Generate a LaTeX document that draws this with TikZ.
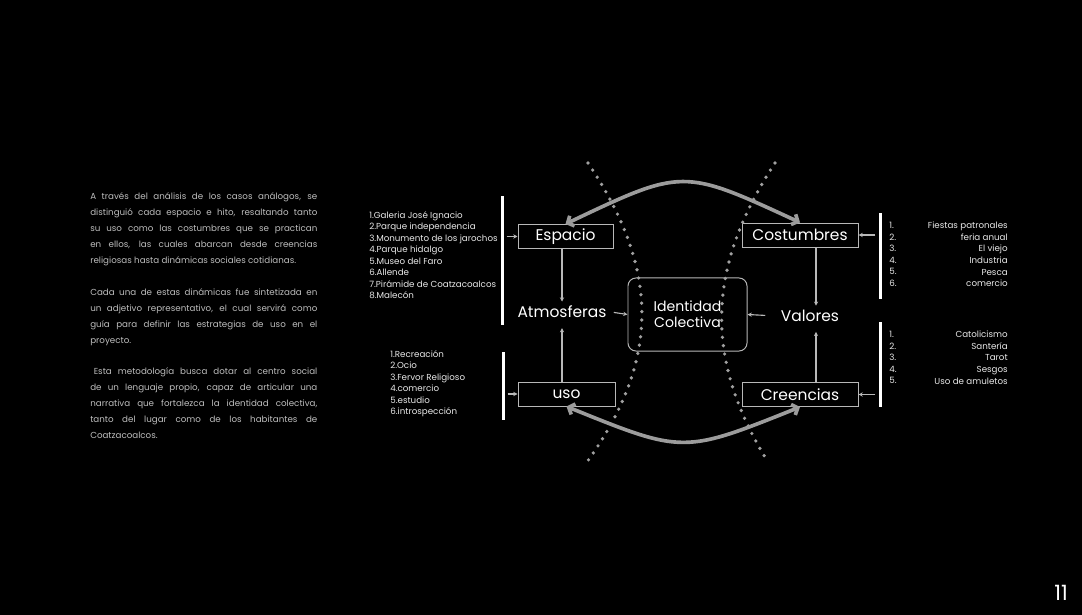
\documentclass[tikz,border=0pt]{standalone}
\usepackage{fontspec}
\setmainfont{Poppins}
\usetikzlibrary{arrows.meta, positioning, calc}
\definecolor{lightline}{HTML}{B8B8B8}
\definecolor{arcgray}{HTML}{9C9C9C}
\definecolor{dotgray}{HTML}{A0A0A0}
\definecolor{paragray}{HTML}{BDBDBD}
\definecolor{itemwhite}{HTML}{E8E8E8}
\hyphenpenalty=10000
\exhyphenpenalty=10000

\begin{document}
\begin{tikzpicture}[x=0.025cm, y=-0.025cm,
		box/.style={draw=lightline, line width=0.7pt, inner sep=0pt, minimum height=0.6cm, text=white, font=\fontsize{11}{13}\selectfont},
		word/.style={text=white, inner sep=3pt, font=\fontsize{11}{13}\selectfont},
		items/.style={text=itemwhite, inner sep=0pt, font=\fontsize{6.2}{8.2}\selectfont},
		para/.style={text=paragray, inner sep=0pt, text width=5.675cm, align=justify, font=\fontsize{6.2}{11.4}\selectfont},
		bar/.style={fill=white, inner sep=0pt, minimum width=0.075cm},
		link/.style={draw=lightline, line width=0.8pt, -{Stealth[length=3pt, width=3pt]}},
		swing/.style={draw=arcgray, line width=2.6pt, {Straight Barb[length=3.5pt, width=8pt]}-{Straight Barb[length=3.5pt, width=8pt]}},
		divider/.style={draw=dotgray, line width=2.6pt, line cap=round, dash pattern=on 0pt off 6pt}]
		\fill[black] (0,0) rectangle (1082,615);
		\useasboundingbox (0,0) rectangle (1082,615);

		\coordinate (espacio)    at (565.5, 236.5);
		\coordinate (costumbres) at (800, 235);
		\coordinate (uso)        at (566.5, 394);
		\coordinate (creencias)  at (800, 394.5);
		\coordinate (identidad)  at (687.5, 314.5);
		\coordinate (atmosferas) at (562, 312);
		\coordinate (valores)    at (810, 316);

		\node[para, anchor=north west] (PARA1) at (90, 192) {A través del análisis de los casos análogos, se\linebreak distinguió cada espacio e hito, resaltando tanto\linebreak su uso como las costumbres que se practican\linebreak en ellos, las cuales abarcan desde creencias\linebreak religiosas hasta dinámicas sociales cotidianas.};
		\node[para, anchor=north west] (PARA2) at (90, 288) {Cada una de estas dinámicas fue sintetizada en\linebreak un adjetivo representativo, el cual servirá como\linebreak guía para definir las estrategias de uso en el\linebreak proyecto.};
		\node[para, anchor=north west] (PARA3) at (90, 367) {\hspace*{0.4em}Esta metodología busca dotar al centro social\linebreak de un lenguaje propio, capaz de articular una\linebreak narrativa que fortalezca la identidad colectiva,\linebreak tanto del lugar como de los habitantes de\linebreak Coatzacoalcos.};

		\node[items, anchor=north west, align=left] (LESP) at (369, 211) {1.Galeria José Ignacio\\2.Parque independencia\\3.Monumento de los jarochos\\4.Parque hidalgo\\5.Museo del Faro\\6.Allende\\7.Pirámide de Coatzacoalcos\\8.Malecón};
		\node[items, anchor=north west, align=left] (LUSO) at (390, 350) {1.Recreación\\2.Ocio\\3.Fervor Religioso\\4.comercio\\5.estudio\\6.introspección};
		\node[items, anchor=north west, align=left] (NCOS) at (889, 222) {1.\\2.\\3.\\4.\\5.\\6.};
		\node[items, anchor=north east, align=right] (LCOS) at (1008, 222) {Fiestas patronales\\feria anual\\El viejo\\Industria\\Pesca\\comercio};
		\node[items, anchor=north west, align=left] (NCRE) at (889, 331) {1.\\2.\\3.\\4.\\5.};
		\node[items, anchor=north east, align=right] (LCRE) at (1008, 331) {Catolicismo\\Santería\\Tarot\\Sesgos\\Uso de amuletos};

		\node[bar, minimum height=3.225cm] (BARESP) at (502, 260.5) {};
		\node[bar, minimum height=1.7cm] (BARUSO) at (503, 386) {};
		\node[bar, minimum height=2.15cm] (BARCOS) at (880, 256) {};
		\node[bar, minimum height=2.125cm] (BARCRE) at (880, 364.5) {};

		\node[box, minimum width=2.375cm] (ESP) at (espacio) {Espacio};
		\node[box, minimum width=2.9cm] (COS) at (costumbres) {Costumbres};
		\node[box, minimum width=2.425cm] (USO) at (uso) {uso};
		\node[box, minimum width=2.9cm] (CRE) at (creencias) {Creencias};
		\node[box, minimum width=2.975cm, minimum height=1.825cm, rounded corners=0.2cm, align=center, font=\fontsize{10}{11.5}\selectfont] (IDE) at (identidad) {Identidad\\Colectiva};
		\node[word] (ATM) at (atmosferas) {Atmosferas};
		\node[word] (VAL) at (valores) {Valores};
		\node[word, font=\fontsize{15}{18}\selectfont] (PAGE) at (1061, 593) {11};

		\draw[divider] (588, 163) .. controls (660, 270) and (660, 360) .. (587, 462);
		\draw[divider] (775, 163) .. controls (705, 270) and (705, 360) .. (768, 462);

		\draw[swing] (ESP.north) .. controls ($(ESP.north)!0.5!(COS.north)+(0,-55)$) .. (COS.north);
		\draw[swing] (USO.south) .. controls ($(USO.south)!0.5!(CRE.south)+(0,47)$) .. (CRE.south);

		\coordinate (valtop) at ([xshift=0.15cm]VAL.north);
		\coordinate (valbot) at ([xshift=0.15cm]VAL.south);
		\draw[link, shorten <=2pt] (ESP.west -| BARESP.east) -- (ESP.west);
		\draw[link, shorten <=2pt] (USO.west -| BARUSO.east) -- (USO.west);
		\draw[link, shorten <=2pt] (COS.east -| BARCOS.west) -- (COS.east);
		\draw[link, shorten <=2pt] (CRE.east -| BARCRE.west) -- (CRE.east);
		\draw[link] (ATM.north |- ESP.south) -- (ATM.north);
		\draw[link, shorten >=4pt] (ATM.south |- USO.north) -- (ATM.south);
		\draw[link] (valtop |- COS.south) -- (valtop);
		\draw[link, shorten >=4pt] (valbot |- CRE.north) -- (valbot);
		\draw[link, shorten <=2pt] (ATM.east) -- (IDE.west);
		\draw[link, shorten <=8pt] (VAL.west) -- (IDE.east);
	\end{tikzpicture}
\end{document}
